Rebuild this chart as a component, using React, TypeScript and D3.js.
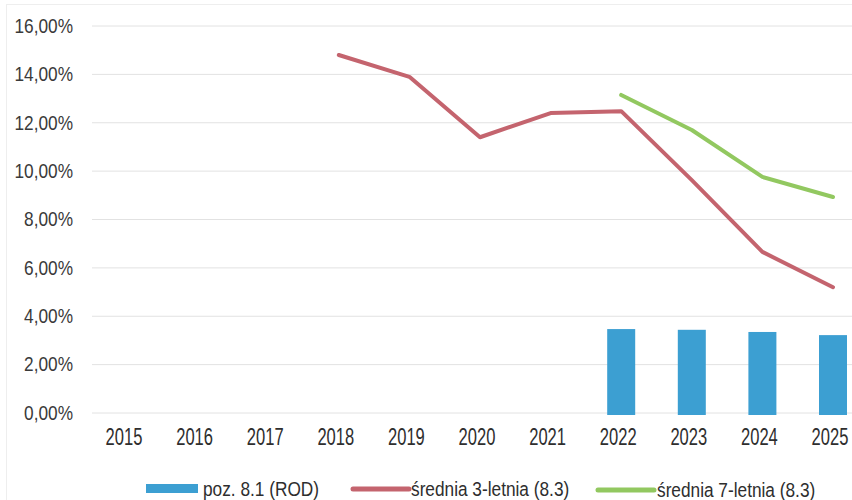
import React from "react";
import * as d3 from "d3";

const years = ["2015","2016","2017","2018","2019","2020","2021","2022","2023","2024","2025"];
const rodValues: (number | null)[] = [null,null,null,null,null,null,null,3.47,3.44,3.35,3.22];
const avg3Values: (number | null)[] = [null,null,null,14.8,13.9,11.4,12.4,12.48,9.63,6.66,5.2];
const avg7Values: (number | null)[] = [null,null,null,null,null,null,null,13.15,11.7,9.76,8.93];
const yTicks = [0,2,4,6,8,10,12,14,16];
const legendLabels = ["poz. 8.1 (ROD)", "średnia 3-letnia (8.3)", "średnia 7-letnia (8.3)"];

const W = 852, H = 500;
const BLUE = "#3C9FD2", RED = "#C4646E", GREEN = "#92C860";
const FONT = "'Liberation Sans', Arial, sans-serif";

export default function App() {
  const x = d3.scalePoint<string>().domain(years).range([127, 833]);
  const y = d3.scaleLinear().domain([0, 16]).range([413, 26]);
  const fmt = (v: number) => v.toFixed(2).replace(".", ",") + "%";

  const line = d3.line<[string, number | null]>()
    .defined(d => d[1] != null)
    .x(d => x(d[0]) as number)
    .y(d => y(d[1] as number));

  const avg3 = years.map((yr, i) => [yr, avg3Values[i]] as [string, number | null]);
  const avg7 = years.map((yr, i) => [yr, avg7Values[i]] as [string, number | null]);
  const bw = 28;
  const sx = 0.885;

  return (
    <svg width={W} height={H} style={{ position: "absolute", left: 0, top: 0, background: "#fff" }} fontFamily={FONT}>
      <rect x={0} y={0} width={W} height={H} fill="#fff" />
      <rect x={6.5} y={4.5} width={W} height={H} fill="none" stroke="#eeeeee" />
      {yTicks.map(t => (
        <g key={t}>
          <line x1={92} x2={W} y1={y(t)} y2={y(t)} stroke="#e2e2e2" strokeWidth={1} />
          <text transform={`translate(73,${y(t)}) scale(${sx},1)`} textAnchor="end" dy="0.35em" fontSize={19.5} fill="#3a3a3a">{fmt(t)}</text>
        </g>
      ))}
      {years.map((yr, i) => rodValues[i] != null ? (
        <rect key={yr} x={(x(yr) as number) - bw / 2} y={y(rodValues[i] as number)} width={bw}
          height={y(0) - y(rodValues[i] as number) + 2} fill={BLUE} />
      ) : null)}
      <path d={line(avg3) || ""} fill="none" stroke={RED} strokeWidth={4} strokeLinejoin="round" strokeLinecap="round" />
      <path d={line(avg7) || ""} fill="none" stroke={GREEN} strokeWidth={4} strokeLinejoin="round" strokeLinecap="round" />
      {years.map(yr => (
        <text key={yr} transform={`translate(${(x(yr) as number) - 3},445) scale(0.72,1)`} textAnchor="middle" fontSize={23} fill="#2e2e2e">{yr}</text>
      ))}
      <g>
        <rect x={146} y={484} width={52} height={9} fill={BLUE} />
        <text transform={`translate(203,496) scale(${sx},1)`} fontSize={19.5} fill="#2e2e2e">{legendLabels[0]}</text>
        <line x1={353} x2={409} y1={489} y2={489} stroke={RED} strokeWidth={5} strokeLinecap="round" />
        <text transform={`translate(411,496) scale(${sx},1)`} fontSize={19.5} fill="#2e2e2e">{legendLabels[1]}</text>
        <line x1={598} x2={654} y1={490} y2={490} stroke={GREEN} strokeWidth={5} strokeLinecap="round" />
        <text transform={`translate(657,497) scale(${sx},1)`} fontSize={19.5} fill="#2e2e2e">{legendLabels[2]}</text>
      </g>
    </svg>
  );
}
